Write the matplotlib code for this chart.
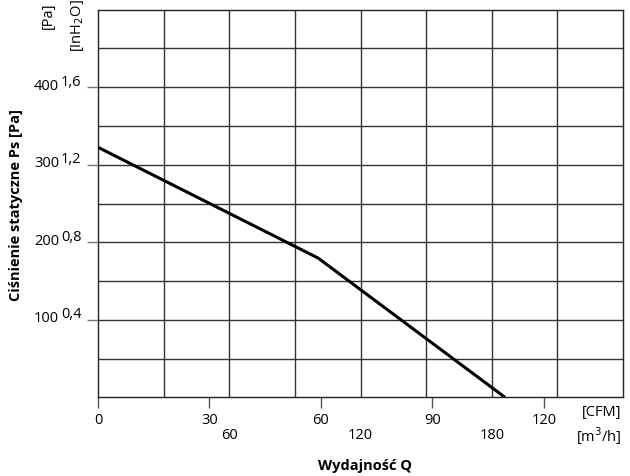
import numpy as np
import matplotlib
matplotlib.use('Agg')
import matplotlib.pyplot as plt

plt.rcParams['font.family'] = ['Open Sans', 'DejaVu Sans']
FS = 10.5
plt.rcParams['font.size'] = FS

CFM_TO_M3H = 1.699

# krzywa wentylatora
flow_cfm = [0, 59.2, 109.5]
pressure_pa = [322.5, 179.7, 0]

# opisy osi
cfm_ticks = [0, 30, 60, 90, 120]
m3h_ticks = [60, 120, 180]
pa_ticks = [100, 200, 300, 400]
inh2o_labels = ['0,4', '0,8', '1,2', '1,6']

x_max_m3h = 240
y_max_pa = 500
grid_step_m3h = 30
grid_step_pa = 50

fig = plt.figure(figsize=(6.3, 4.77), dpi=100)
ax = fig.add_axes([98 / 630, 78.7 / 477, 525 / 630, 387.6 / 477])
ax.set_xlim(0, x_max_m3h / CFM_TO_M3H)
ax.set_ylim(0, y_max_pa)

# siatka
for m in np.arange(grid_step_m3h, x_max_m3h, grid_step_m3h):
    ax.axvline(m / CFM_TO_M3H, color='#333333', lw=1.0, zorder=1)
for p in np.arange(grid_step_pa, y_max_pa, grid_step_pa):
    ax.axhline(p, color='#333333', lw=1.0, zorder=1)
for s in ax.spines.values():
    s.set_color('#222222')
    s.set_linewidth(1.0)

ax.plot(flow_cfm, pressure_pa, color='black', lw=2.2, zorder=3,
        solid_capstyle='butt', solid_joinstyle='round')

# os X - CFM
ax.set_xticks(cfm_ticks)
ax.set_xticklabels([str(v) for v in cfm_ticks])
ax.tick_params(axis='x', direction='out', length=8, width=1, color='#555555',
               pad=2.5, labelsize=FS)
for v in m3h_ticks:
    ax.annotate(str(v), xy=(v / CFM_TO_M3H, 0), xycoords='data',
                xytext=(0, -37), textcoords='offset pixels',
                ha='center', va='center', fontsize=FS)
ax.annotate('[CFM]', xy=(1, 0), xycoords='axes fraction',
            xytext=(-2, -14), textcoords='offset pixels',
            ha='right', va='center', fontsize=FS)
ax.annotate('[m$^3$/h]', xy=(1, 0), xycoords='axes fraction',
            xytext=(-1, -38), textcoords='offset pixels',
            ha='right', va='center', fontsize=FS)

# os Y - Pa / inH2O
ax.set_yticks(pa_ticks)
ax.set_yticklabels([])
ax.tick_params(axis='y', direction='out', length=8, width=1, color='#777777')
for v, lab in zip(pa_ticks, inh2o_labels):
    ax.annotate(str(v), xy=(0, v), xycoords=('axes fraction', 'data'),
                xytext=(-39, 2), textcoords='offset pixels',
                ha='right', va='center', fontsize=FS)
    ax.annotate(lab, xy=(0, v), xycoords=('axes fraction', 'data'),
                xytext=(-37, 6), textcoords='offset pixels',
                ha='left', va='center', fontsize=FS)

fig.text(48 / 630, 1 - 16 / 477, '[Pa]', rotation=90, ha='center', va='center',
         fontsize=FS)
fig.text(77 / 630, 1 - 26 / 477, '[InH$_2$O]', rotation=90, ha='center',
         va='center', fontsize=FS)

fig.text(16 / 630, 1 - 205 / 477, 'Ciśnienie statyczne Ps [Pa]', rotation=90,
         ha='center', va='center', fontsize=FS, fontweight='bold')
fig.text(365 / 630, 1 - 466 / 477, 'Wydajność Q', ha='center', va='center',
         fontsize=FS, fontweight='bold')

fig.savefig('out.png', dpi=100)
